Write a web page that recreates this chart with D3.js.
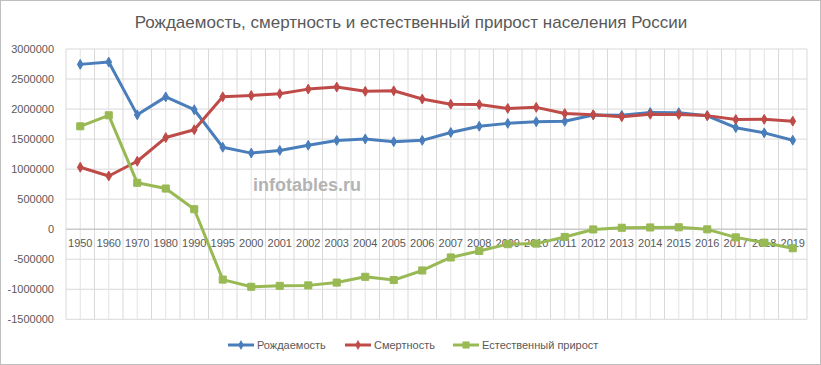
<!DOCTYPE html>
<html>
<head>
<meta charset="utf-8">
<script src="https://cdn.jsdelivr.net/npm/d3@7"></script>
<style>
  body { margin: 0; background: #fff; }
  svg text { font-family: "Liberation Sans", Arial, sans-serif; fill: #595959; }
</style>
</head>
<body>
<svg id="chart"></svg>
<script>
const years = ["1950","1960","1970","1980","1990","1995","2000","2001","2002","2003","2004","2005","2006",
  "2007","2008","2009","2010","2011","2012","2013","2014","2015","2016","2017","2018","2019"];

const births = [2744000, 2782353, 1903713, 2202779, 1988858, 1363806, 1266800, 1311604, 1396967, 1477301,
  1502477, 1457376, 1479637, 1610122, 1713947, 1761687, 1788948, 1796629, 1902084, 1895822,
  1942683, 1940579, 1888729, 1690307, 1604344, 1481074];

const deaths = [1031000, 886090, 1131183, 1525755, 1655993, 2203811, 2225332, 2254856, 2332272, 2365826,
  2295402, 2303935, 2166703, 2080445, 2075954, 2010543, 2028516, 1925720, 1906335, 1871809,
  1913613, 1908541, 1891015, 1826125, 1828910, 1798307];

const growth = [1713000, 1896263, 772530, 677024, 332865, -839005, -958532, -943252, -935305, -888525,
  -792925, -846559, -687066, -470323, -362007, -248856, -239568, -129091, -4251, 24013,
  29070, 32038, -2286, -135818, -224566, -317233];

const yTicks = [-1500000, -1000000, -500000, 0, 500000, 1000000, 1500000, 2000000, 2500000, 3000000];

const seriesNames = ["Рождаемость", "Смертность", "Естественный прирост"];
const colors = ["#4a7ebb", "#be4b48", "#98b954"];

const W = 821, H = 365;
const plotLeft = 66, plotRight = 807, plotTop = 49, plotBottom = 319.3;

const svg = d3.select("#chart").attr("width", W).attr("height", H);

svg.append("rect")
  .attr("x", 0.5).attr("y", 0.5)
  .attr("width", W - 1).attr("height", H - 1)
  .attr("fill", "#fff").attr("stroke", "#bfbfbf");

const x = d3.scaleBand().domain(years).range([plotLeft, plotRight]).padding(0);
const y = d3.scaleLinear().domain([-1500000, 3000000]).range([plotBottom, plotTop]);

// horizontal grid
svg.append("g").selectAll("line")
  .data(yTicks)
  .enter().append("line")
  .attr("x1", plotLeft).attr("x2", plotRight)
  .attr("y1", d => y(d)).attr("y2", d => y(d))
  .attr("stroke", "#d9d9d9");

// vertical grid: category boundaries and centers
const bounds = years.map(d => x(d)).concat([plotRight]);
svg.append("g").selectAll("line")
  .data(bounds)
  .enter().append("line")
  .attr("x1", d => d).attr("x2", d => d)
  .attr("y1", plotTop).attr("y2", plotBottom)
  .attr("stroke", "#d9d9d9");
svg.append("g").selectAll("line")
  .data(years)
  .enter().append("line")
  .attr("x1", d => x(d) + x.bandwidth() / 2).attr("x2", d => x(d) + x.bandwidth() / 2)
  .attr("y1", plotTop).attr("y2", plotBottom)
  .attr("stroke", "#e3e3e3");

// zero line
svg.append("line")
  .attr("x1", plotLeft).attr("x2", plotRight)
  .attr("y1", y(0)).attr("y2", y(0))
  .attr("stroke", "#bfbfbf");

// y axis
const yAxis = svg.append("g")
  .attr("transform", "translate(" + (plotLeft - 10) + ",0)")
  .call(d3.axisLeft(y).tickValues(yTicks).tickSize(0).tickFormat(d => String(d)));
yAxis.select(".domain").remove();
yAxis.selectAll("text")
  .style("font-size", "11px")
  .attr("x", -2);

// x axis labels just under zero line
const xAxis = svg.append("g")
  .attr("transform", "translate(0," + y(0) + ")")
  .call(d3.axisBottom(x).tickSize(0));
xAxis.select(".domain").remove();
xAxis.selectAll("text")
  .style("font-size", "11px")
  .attr("y", 10);

// watermark
svg.append("text")
  .attr("x", 307).attr("y", 191)
  .attr("text-anchor", "middle")
  .style("font-size", "18px")
  .style("font-weight", "bold")
  .style("fill", "#b3b3b3")
  .text("infotables.ru");

// title
svg.append("text")
  .attr("x", 411).attr("y", 28)
  .attr("text-anchor", "middle")
  .style("font-size", "17px")
  .text("Рождаемость, смертность и естественный прирост населения России");

const all = [births, deaths, growth];
const symbols = [d3.symbolDiamond, d3.symbolDiamond, d3.symbolSquare];
const symSizes = [28, 28, 50];

const line = d3.line()
  .x((d, i) => x(years[i]) + x.bandwidth() / 2)
  .y(d => y(d));

all.forEach(function(vals, k) {
  svg.append("path")
    .datum(vals)
    .attr("fill", "none")
    .attr("stroke", colors[k])
    .attr("stroke-width", 3)
    .attr("stroke-linejoin", "round")
    .attr("d", line);

  svg.append("g").selectAll("path")
    .data(vals)
    .enter().append("path")
    .attr("d", d3.symbol().type(symbols[k]).size(symSizes[k]))
    .attr("transform", (d, i) => "translate(" + (x(years[i]) + x.bandwidth() / 2) + "," + y(d) + ")")
    .attr("fill", colors[k])
    .attr("stroke", colors[k])
    .attr("stroke-width", 1);
});

// legend
const legendX = [228, 345, 453];
const legend = svg.append("g");
seriesNames.forEach(function(name, k) {
  const g = legend.append("g").attr("transform", "translate(" + legendX[k] + ",345)");
  g.append("line")
    .attr("x1", 0).attr("x2", 26)
    .attr("stroke", colors[k]).attr("stroke-width", 3);
  g.append("path")
    .attr("d", d3.symbol().type(symbols[k]).size(symSizes[k]))
    .attr("transform", "translate(13,0)")
    .attr("fill", colors[k]);
  g.append("text")
    .attr("x", 29).attr("y", 4)
    .style("font-size", "11px")
    .text(name);
});
</script>
</body>
</html>
